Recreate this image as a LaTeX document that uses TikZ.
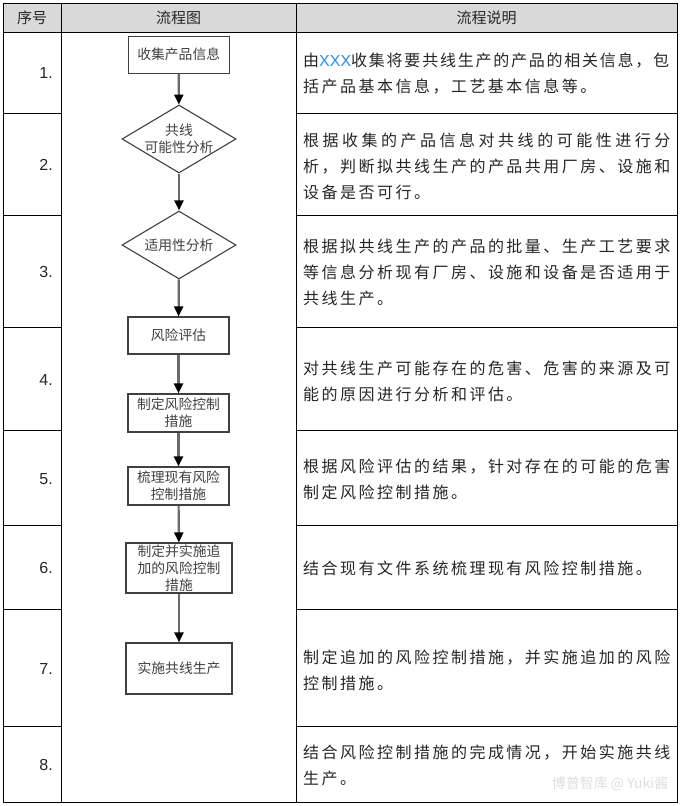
\documentclass[tikz,border=0pt]{standalone}
\usepackage{fontspec}
\setmainfont{Noto Sans CJK SC}
\newfontfamily\cjksp[LetterSpace=15.5]{Noto Sans CJK SC}
\newfontfamily\cjkwide[LetterSpace=21.9]{Noto Sans CJK SC}
\newfontfamily\cjknarrow[LetterSpace=11]{Noto Sans CJK SC}
\newfontfamily\numfont{Liberation Sans}
\usetikzlibrary{arrows.meta,shapes.geometric}
\definecolor{hdr}{HTML}{D9D9D9}
\definecolor{txt}{HTML}{262626}
\definecolor{boxc}{HTML}{404040}
\definecolor{arrc}{HTML}{6A6A6A}
\definecolor{xblue}{HTML}{2A8CF0}
\tikzset{
  grid/.style={line width=1pt, draw=black},
  hdrtext/.style={text=txt, font=\fontsize{15}{15}\selectfont, inner sep=0pt},
  numtext/.style={text=txt, font=\numfont\fontsize{16}{16}\selectfont, anchor=east, inner sep=0pt},
  desc/.style={text=txt, font=\cjksp\fontsize{16}{26}\selectfont, anchor=west, align=left, inner sep=0pt},
  fbox/.style={rectangle, draw=boxc, line width=1.1pt, text=boxc, font=\fontsize{13.8}{16.8}\selectfont, align=center, inner sep=0pt, minimum width=101pt, minimum height=38pt},
  fdia/.style={diamond, draw=boxc, line width=1.1pt, inner sep=0pt, minimum width=114pt, minimum height=68pt},
  flabel/.style={text=boxc, font=\fontsize{13.8}{16.8}\selectfont, align=center, inner sep=0pt},
  arr/.style={draw=arrc, line width=2.2pt, -{Triangle[length=10pt,width=9pt,color=black]}},
}
\begin{document}
\begin{tikzpicture}[x=1pt,y=-1pt]
\useasboundingbox (0,0) rectangle (685,806);
% header background
\fill[hdr] (3,3) rectangle (677,32);
% table grid
\draw[grid] (3,3) rectangle (677,802);
\draw[grid] (61,3) -- (61,802);
\draw[grid] (296,3) -- (296,802);
\draw[grid] (3,32) -- (677,32);
\foreach \yy in {113,215,327.5,430,525.5,609,726} {
  \draw[grid] (3,\yy) -- (61,\yy);
  \draw[grid] (296,\yy) -- (677,\yy);
}
% header
\node[hdrtext] (h1) at (32,18) {序号};
\node[hdrtext] (h2) at (178.5,18) {流程图};
\node[hdrtext] (h3) at (486.5,18) {流程说明};
% numbers
\node[numtext] (n1) at (53,73) {1.};
\node[numtext] (n2) at (53,165) {2.};
\node[numtext] (n3) at (53,272) {3.};
\node[numtext] (n4) at (53,380) {4.};
\node[numtext] (n5) at (53,479) {5.};
\node[numtext] (n6) at (53,568) {6.};
\node[numtext] (n7) at (53,669) {7.};
\node[numtext] (n8) at (53,765) {8.};
% descriptions
\node[desc] (t1) at (303,74) {{\cjknarrow 由\textcolor{xblue}{\numfont XXX}收集将要共线生产的产品的相关信息，包}\\括产品基本信息，工艺基本信息等。};
\node[desc] (t2) at (303,166) {{\cjkwide 根据收集的产品信息对共线的可能性进行分}\\析，判断拟共线生产的产品共用厂房、设施和\\设备是否可行。};
\node[desc] (t3) at (303,272) {根据拟共线生产的产品的批量、生产工艺要求\\等信息分析现有厂房、设施和设备是否适用于\\共线生产。};
\node[desc] (t4) at (303,381) {对共线生产可能存在的危害、危害的来源及可\\能的原因进行分析和评估。};
\node[desc] (t5) at (303,479) {根据风险评估的结果，针对存在的可能的危害\\制定风险控制措施。};
\node[desc] (t6) at (303,568) {结合现有文件系统梳理现有风险控制措施。};
\node[desc] (t7) at (303,670) {制定追加的风险控制措施，并实施追加的风险\\控制措施。};
\node[desc] (t8) at (303,765) {结合风险控制措施的完成情况，开始实施共线\\生产。};
% flowchart
\node[fbox, minimum height=37pt] (b1) at (178.7,54.7) {收集产品信息};
\node[fdia] (d1) at (179,139) {};
\node[flabel] (d1t) at (d1.center) {共线\\可能性分析};
\node[fdia] (d2) at (179,245) {};
\node[flabel] (d2t) at (d2.center) {适用性分析};
\node[fbox, minimum height=37pt] (b3) at (178.5,335.5) {风险评估};
\node[fbox] (b4) at (178.5,413) {制定风险控制\\措施};
\node[fbox] (b5) at (178.5,486) {梳理现有风险\\控制措施};
\node[fbox, minimum width=106pt, minimum height=50pt] (b6) at (179,568) {制定并实施追\\加的风险控制\\措施};
\node[fbox, minimum width=106pt, minimum height=51pt] (b7) at (179,668.5) {实施共线生产};
\draw[arr] (b1) -- (d1);
\draw[arr] (d1) -- (d2);
\draw[arr] (d2) -- (b3);
\draw[arr] (b3) -- (b4);
\draw[arr] (b4) -- (b5);
\draw[arr] (b5) -- (b6);
\draw[arr] (b6) -- (b7);
% watermark
\node[text=black!13, font=\fontsize{14}{14}\selectfont, inner sep=0pt] (wm) at (610,784) {博普智库 @ Yuki酱};
\end{tikzpicture}
\end{document}
